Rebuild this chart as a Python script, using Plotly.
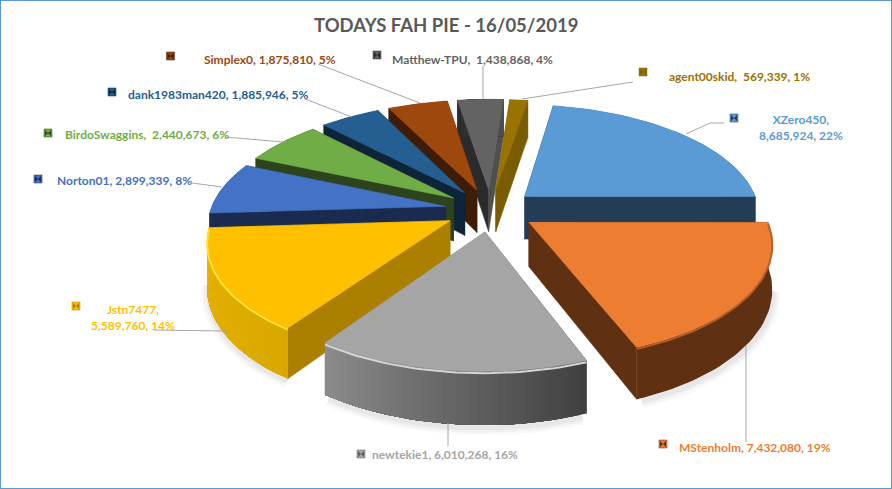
import math
import plotly.graph_objects as go

# ---- data ----
names = ["XZero450", "MStenholm", "newtekie1", "Jstn7477", "Norton01",
         "BirdoSwaggins", "dank1983man420", "Simplex0", "Matthew-TPU", "agent00skid"]
values = [8685924, 7432080, 6010268, 5589760, 2899339,
          2440673, 1885946, 1875810, 1438868, 569339]
percents = [22, 19, 16, 14, 8, 6, 5, 5, 4, 1]
title_text = "TODAYS FAH PIE - 16/05/2019"

# ---- styles ----
top_col = ["#5B9BD5", "#ED7D31", "#A5A5A5", "#FFC000", "#4472C4",
           "#70AD47", "#255E91", "#9E480E", "#636363", "#997300"]
start_col = ["#223D55", "#5F3112", "#5A5A5A", "#AB7F00", "#1A2B4F",
             "#2C431B", "#0D2439", "#3E1C05", "#2B2B2B", "#806000"]
end_col = ["#223D55", "#5F3112", "#8A8A8A", "#AB7F00", "#1A2B4F",
           "#2C431B", "#0D2439", "#3E1C05", "#4F4F4F", "#7A5C00"]
arc_from = ["#223D55", "#5F3112", "#404040", "#D9A800", "#1A2B4F",
            "#2C431B", "#0D2439", "#3E1C05", "#2B2B2B", "#7A5C00"]
arc_to = ["#223D55", "#5F3112", "#8C8C8C", "#E8B400", "#1A2B4F",
          "#2C431B", "#0D2439", "#3E1C05", "#4F4F4F", "#7A5C00"]
rim_col = [None, "#B5602A", "#D6D6D6", "#FFE23A", None, None, None, None, None, None]
label_col = ["#5B9BD5", "#ED7D31", "#A5A5A5", "#FFC000", "#4472C4",
             "#70AD47", "#255E91", "#9E480E", "#636363", "#997300"]
CX, CY, RX, RY, P, H, EXPLODE, START = 490.5, 210, 235, 110, 0.157, 43.5, 0.195, 9.5


def project(X, Y, drop=0.0):
    d = 1 + P * Y
    return CX + RX * X / d, CY - RY * Y / d + drop * H / d


def mix(a, b, t):
    ca = [int(a[i:i + 2], 16) for i in (1, 3, 5)]
    cb = [int(b[i:i + 2], 16) for i in (1, 3, 5)]
    return "rgb(%d,%d,%d)" % tuple(round(u + (v - u) * t) for u, v in zip(ca, cb))


total = sum(values)
slices = []
theta = START
for i, v in enumerate(values):
    sweep = 360 * v / total
    t0, t1 = theta, theta + sweep
    theta = t1
    mid = math.radians((t0 + t1) / 2)
    ox, oy = EXPLODE * math.sin(mid), EXPLODE * math.cos(mid)
    slices.append(dict(i=i, t0=t0, t1=t1, ox=ox, oy=oy, my=oy + 0.6 * math.cos(mid)))


def rim(s, a0, a1, n, drop=0.0):
    pts = []
    for k in range(n + 1):
        a = math.radians(a0 + (a1 - a0) * k / n)
        pts.append(project(s["ox"] + math.sin(a), s["oy"] + math.cos(a), drop))
    return pts


fig = go.Figure()


def poly(pts, color, lw=0.6):
    xs = [p[0] for p in pts] + [pts[0][0]]
    ys = [p[1] for p in pts] + [pts[0][1]]
    fig.add_trace(go.Scatter(x=xs, y=ys, mode="lines", fill="toself", fillcolor=color,
                             line=dict(color=color, width=lw), hoverinfo="skip",
                             showlegend=False))


# soft drop shadows on the background
for idx, (a, b) in {3: (215, 262), 2: (160, 214), 1: (100, 158), 9: (8, 9.4), 0: (70, 90)}.items():
    s = slices[idx]
    pts = rim(s, a, b, 24, 1.0)
    for w, op in ((15, 0.025), (10, 0.03), (5, 0.04)):
        fig.add_trace(go.Scatter(x=[p[0] + 1 for p in pts], y=[p[1] + 3 for p in pts], mode="lines",
                                 line=dict(color="rgba(0,0,0,%g)" % op, width=w),
                                 hoverinfo="skip", showlegend=False))

# painter's order: far slices first
for s in sorted(slices, key=lambda q: -q["my"]):
    i = s["i"]
    apex = project(s["ox"], s["oy"])
    apex_b = project(s["ox"], s["oy"], 1.0)
    a_t = rim(s, s["t0"], s["t0"], 1)[0]
    a_b = rim(s, s["t0"], s["t0"], 1, 1.0)[0]
    b_t = rim(s, s["t1"], s["t1"], 1)[0]
    b_b = rim(s, s["t1"], s["t1"], 1, 1.0)[0]
    poly([apex, a_t, a_b, apex_b], start_col[i])
    poly([apex, b_t, b_b, apex_b], end_col[i])
    # outer wall: each step repaints from its start to the far end, so no seams show
    n = 40 if arc_from[i] != arc_to[i] else 1
    for k in range(n):
        a0 = s["t0"] + (s["t1"] - s["t0"]) * k / n
        m = max(2, 40 - k)
        up = rim(s, a0, s["t1"], m)
        dn = rim(s, a0, s["t1"], m, 1.0)
        poly(up + dn[::-1], mix(arc_from[i], arc_to[i], (k + 0.5) / n), lw=0)
    poly([apex] + rim(s, s["t0"], s["t1"], 40), top_col[i])
    if rim_col[i]:
        pts = rim(s, s["t0"], s["t1"], 40, 0.03)
        fig.add_trace(go.Scatter(x=[p[0] for p in pts], y=[p[1] for p in pts], mode="lines",
                                 line=dict(color=rim_col[i], width=2), hoverinfo="skip",
                                 showlegend=False))

# leader lines (layout furniture)
leaders = [
    [(724, 123), (710, 123), (686, 134)], [(746, 346), (746, 442)], [(448, 423), (448, 446)],
    [(154, 330), (225, 331)], [(192, 183), (222, 187)], [(225, 137), (283, 142)],
    [(305, 99), (352, 117)], [(318, 64), (420, 103)], [(483, 66), (483, 99)], [(633, 82), (522, 99)],
]
for L in leaders:
    fig.add_trace(go.Scatter(x=[p[0] for p in L], y=[p[1] for p in L], mode="lines",
                             line=dict(color="#A6A6A6", width=1), hoverinfo="skip", showlegend=False))

key_pos = [(734, 118), (663, 444), (361, 454), (76, 306), (38, 179),
           (48, 133), (112, 92), (170.5, 56), (377, 55), (643, 72)]
for i, (kx, ky) in enumerate(key_pos):
    fig.add_trace(go.Scatter(x=[kx], y=[ky], mode="markers",
                             marker=dict(symbol="square", size=8, color=top_col[i],
                                         line=dict(color=start_col[i], width=0.5)),
                             hoverinfo="skip", showlegend=False))
    fig.add_trace(go.Scatter(x=[kx], y=[ky], mode="markers",
                             marker=dict(symbol="bowtie", size=6, color=start_col[i]),
                             hoverinfo="skip", showlegend=False))

label_pos = [(801, 127), (754.5, 447), (445, 454), (133, 317), (124, 180),
             (147, 134), (218, 94), (270, 59), (472.5, 59), (739, 76)]
wrapped = {0, 3}
nb = "\u00a0"
double_space = {5, 8, 9}
for i, (lx, ly) in enumerate(label_pos):
    sep = "," + nb + " " if i in double_space else ", "
    body = names[i] + (",<br>" if i in wrapped else sep) + f"{values[i]:,}, {percents[i]}%"
    fig.add_annotation(x=lx, y=ly, text=body, showarrow=False, xanchor="center", yanchor="middle",
                       align="center",
                       font=dict(family="Lato", size=12, color=label_col[i], weight=700))

fig.add_annotation(x=446, y=25, text=title_text, showarrow=False, xanchor="center", yanchor="middle",
                   font=dict(family="Lato", size=18.5, color="#595959", weight=700))

fig.update_layout(
    width=892, height=489, margin=dict(l=0, r=0, t=0, b=0), autosize=False,
    paper_bgcolor="white", plot_bgcolor="white", showlegend=False,
    xaxis=dict(range=[0, 892], visible=False, fixedrange=True),
    yaxis=dict(range=[489, 0], visible=False, fixedrange=True),
    shapes=[dict(type="rect", xref="paper", yref="paper", x0=0, x1=1, y0=0, y1=1,
                 line=dict(color="#5B9BD5", width=2))],
)
fig.write_html("out.html", config={"displayModeBar": False},
               post_script="document.body.style.margin='0';document.body.style.overflow='hidden';")
